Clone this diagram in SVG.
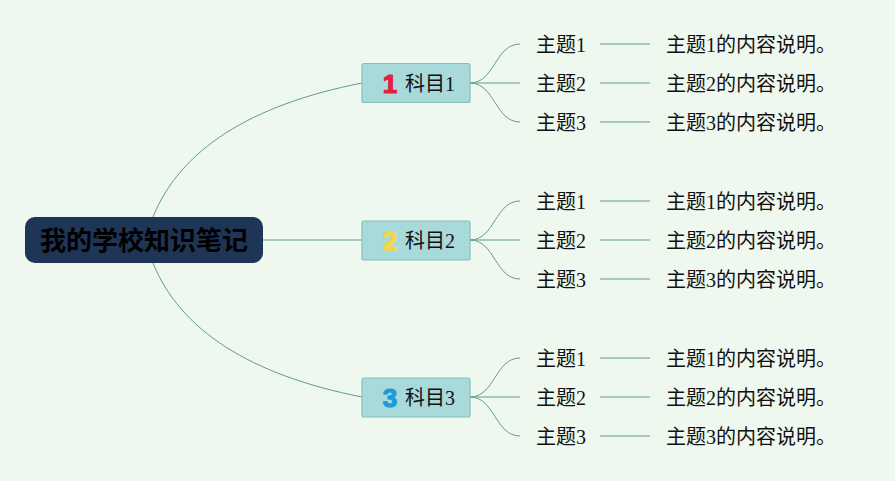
<svg xmlns="http://www.w3.org/2000/svg" width="895" height="481" viewBox="0 0 895 481">
<style>
.bg{fill:#eff8ee}
.conn{fill:none;stroke:#5f9e88;stroke-width:1}
.box{fill:#a8d9db;stroke:#86c0bb;stroke-width:1.2}
.t{font-family:"Liberation Serif","Noto Sans CJK SC",serif;font-size:20px;fill:#111}
.num{font-family:"Liberation Sans","Noto Sans",sans-serif;font-size:26px;font-weight:bold;stroke-width:1.2;stroke-linejoin:round}
.root{font-family:"Noto Sans CJK SC",sans-serif;font-size:26px;font-weight:bold;fill:#000}
</style>
<rect class="bg" x="0" y="0" width="895" height="481"/>
<g id="connectors">
<path class="conn" d="M153,217 C180,150 250,105 362,83"/>
<path class="conn" d="M263,240 L362,240"/>
<path class="conn" d="M153,263 C180,330 250,375 362,397"/>
<g id="b1">
<path class="conn" d="M470,83 C495,83 495,44 520,44"/>
<path class="conn" d="M470,83 L520,83"/>
<path class="conn" d="M470,83 C495,83 495,122 520,122"/>
</g>
<g id="b2">
<path class="conn" d="M470,240 C495,240 495,201 520,201"/>
<path class="conn" d="M470,240 L520,240"/>
<path class="conn" d="M470,240 C495,240 495,279 520,279"/>
</g>
<g id="b3">
<path class="conn" d="M470,397 C495,397 495,358 520,358"/>
<path class="conn" d="M470,397 L520,397"/>
<path class="conn" d="M470,397 C495,397 495,436 520,436"/>
</g>
<path class="conn" d="M600,44H650M600,83H650M600,122H650M600,201H650M600,240H650M600,279H650M600,358H650M600,397H650M600,436H650"/>
</g>
<g id="root">
<rect x="25" y="217" width="238" height="46" rx="10" fill="#1f3556"/>
<text class="root" x="144" y="249.5" text-anchor="middle">我的学校知识笔记</text>
</g>
<g id="subject1">
<rect class="box" x="362" y="63.5" width="108" height="39" rx="2"/>
<text class="num" x="390" y="93" fill="#e3213b" stroke="#e3213b" text-anchor="middle">1</text>
<text class="t" x="405" y="91">科目1</text>
</g>
<g id="subject2">
<rect class="box" x="362" y="221" width="108" height="39" rx="2"/>
<text class="num" x="390" y="250" fill="#f4d840" stroke="#f4d840" text-anchor="middle">2</text>
<text class="t" x="405" y="248">科目2</text>
</g>
<g id="subject3">
<rect class="box" x="362" y="378" width="108" height="39" rx="2"/>
<text class="num" x="390" y="407" fill="#1e9ad8" stroke="#1e9ad8" text-anchor="middle">3</text>
<text class="t" x="405" y="405">科目3</text>
</g>
<g id="topics1">
<text class="t" x="536" y="51.5">主题1</text>
<text class="t" x="536" y="90.5">主题2</text>
<text class="t" x="536" y="129.5">主题3</text>
<text class="t" x="666" y="51.5">主题1的内容说明。</text>
<text class="t" x="666" y="90.5">主题2的内容说明。</text>
<text class="t" x="666" y="129.5">主题3的内容说明。</text>
</g>
<g id="topics2">
<text class="t" x="536" y="208.5">主题1</text>
<text class="t" x="536" y="247.5">主题2</text>
<text class="t" x="536" y="286.5">主题3</text>
<text class="t" x="666" y="208.5">主题1的内容说明。</text>
<text class="t" x="666" y="247.5">主题2的内容说明。</text>
<text class="t" x="666" y="286.5">主题3的内容说明。</text>
</g>
<g id="topics3">
<text class="t" x="536" y="365.5">主题1</text>
<text class="t" x="536" y="404.5">主题2</text>
<text class="t" x="536" y="443.5">主题3</text>
<text class="t" x="666" y="365.5">主题1的内容说明。</text>
<text class="t" x="666" y="404.5">主题2的内容说明。</text>
<text class="t" x="666" y="443.5">主题3的内容说明。</text>
</g>
</svg>
